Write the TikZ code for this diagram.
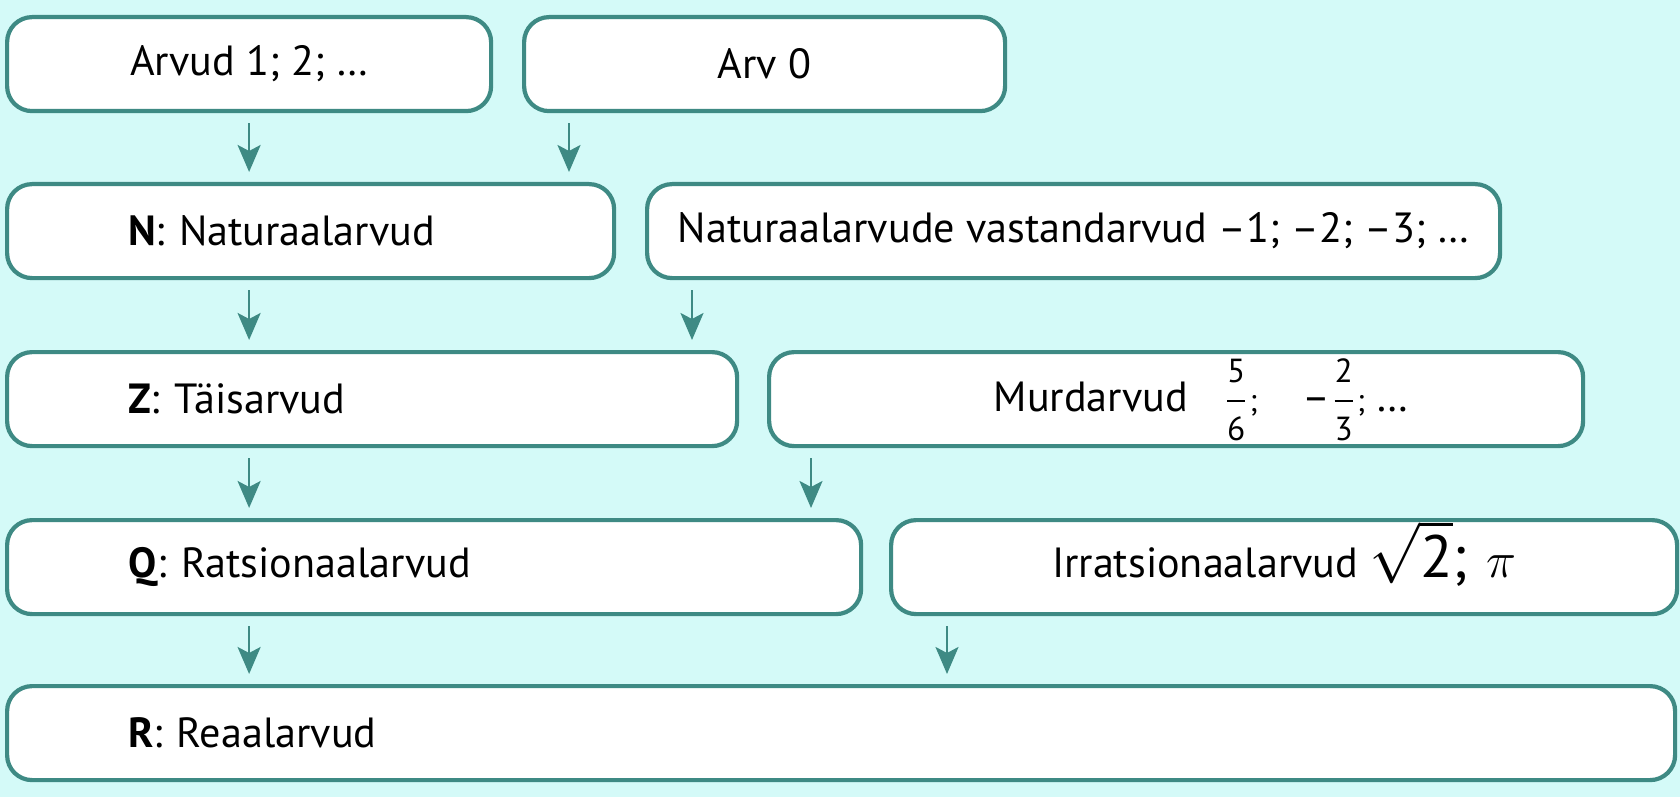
\documentclass[tikz,border=0pt]{standalone}
\usepackage{amsmath}
\usepackage{fontspec}
\setmainfont{PT Sans}
\usetikzlibrary{arrows.meta,calc}
\definecolor{taust}{RGB}{212,250,248}
\definecolor{roheline}{RGB}{62,138,132}
\newcommand{\murd}[2]{\smash{$\dfrac{\text{\fontsize{9.5}{11}\selectfont #1}}{\text{\fontsize{9.5}{11}\selectfont #2}}$}}
\tikzset{
  kast/.style={draw=roheline, line width=1.2pt, fill=white, rounded corners=0.25cm,
    minimum height=0.94cm, anchor=north west, inner sep=0pt,
    font=\fontsize{12}{14}\selectfont},
  vasak/.style={kast, align=left, inner xsep=1.21cm, text width=#1},
  keskel/.style={kast, minimum width=#1},
  nool/.style={roheline, line width=0.7pt, -{Stealth[length=2.7mm,width=2.3mm,inset=0.6mm]},
    shorten <=0.1cm, shorten >=0.1cm}
}
\begin{document}
\begin{tikzpicture}
  \fill[taust] (0,0) rectangle (16.8,-7.97);
  % vasak veerg
  \node[keskel=4.84cm] (A) at (0.05,-0.15) {Arvud 1; 2; …};
  \node[vasak=3.65cm] (N) at (0.05,-1.82) {\textbf{N}: Naturaalarvud};
  \node[vasak=4.88cm] (Z) at (0.05,-3.50) {\textbf{Z}: Täisarvud};
  \node[vasak=6.12cm] (Q) at (0.05,-5.18) {\textbf{Q}: Ratsionaalarvud};
  \node[vasak=14.26cm] (R) at (0.05,-6.84) {\textbf{R}: Reaalarvud};
  % parem veerg
  \node[keskel=4.81cm] (B) at (5.22,-0.15) {Arv 0};
  \node[keskel=8.53cm] (Neg) at (6.45,-1.82) {Naturaalarvude vastandarvud –1; –2; –3; …};
  \node[keskel=8.14cm] (Murd) at (7.67,-3.50)
    {\hspace*{0.5cm}Murdarvud\hspace{0.35cm}\murd{5}{6}{\small;}\hspace{0.45cm}–\murd{2}{3}{\small;} …};
  \node[keskel=7.86cm] (Irr) at (8.89,-5.18)
    {Irratsionaalarvud {\fontsize{17}{20}\selectfont\smash{$\sqrt{\text{2}}$};}\,
     {\fontsize{14}{16}\selectfont$\pi$}};
  % nooled
  \foreach \s/\t in {A/N, N/Z, Z/Q, Q/R}
    \draw[nool] (\s.south -| A.south) -- (\t.north -| A.south);
  \foreach \s/\t/\d in {B/N/0.47, Neg/Z/0.47, Murd/Q/0.44, Irr/R/0.58}
    \draw[nool] ([xshift=\d cm]\s.south west) -- ([xshift=\d cm]\s.south west |- \t.north);
\end{tikzpicture}
\end{document}
